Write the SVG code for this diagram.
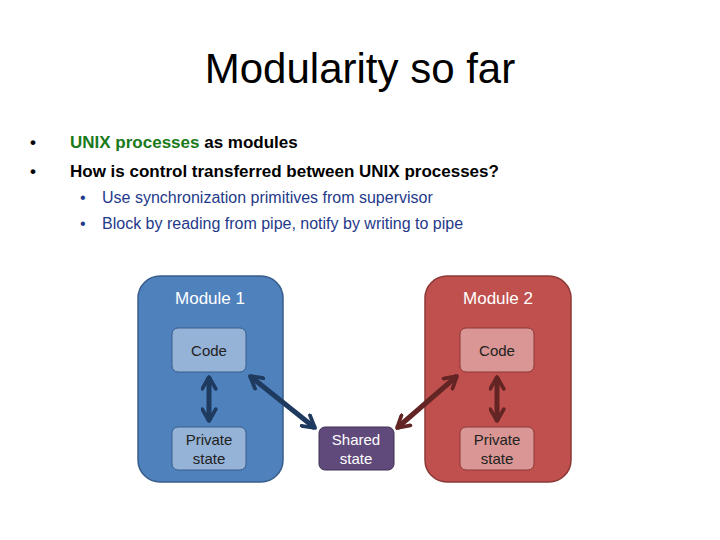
<svg xmlns="http://www.w3.org/2000/svg" width="720" height="540" viewBox="0 0 720 540">
<style>
text{font-family:"Liberation Sans",Arial,sans-serif}
.b{font-size:17px;font-weight:bold}
.s{font-size:16px;fill:#1f3a8a}
.m{font-size:17px;fill:#fff;text-anchor:middle}
.n{font-size:15px;fill:#222;text-anchor:middle}
.ns{font-size:15px;fill:#fff;text-anchor:middle}
</style>
<defs>
<marker id="ab" viewBox="0 0 10 10" refX="8" refY="5" markerWidth="3.4" markerHeight="3.4" orient="auto-start-reverse" markerUnits="strokeWidth"><polyline points="1,1 8,5 1,9" fill="none" stroke="#1f3a5f" stroke-width="2.2" stroke-linecap="round" stroke-linejoin="round"/></marker>
<marker id="ar" viewBox="0 0 10 10" refX="8" refY="5" markerWidth="3.4" markerHeight="3.4" orient="auto-start-reverse" markerUnits="strokeWidth"><polyline points="1,1 8,5 1,9" fill="none" stroke="#632523" stroke-width="2.2" stroke-linecap="round" stroke-linejoin="round"/></marker>
</defs>
<rect width="720" height="540" fill="#fff"/>
<text x="360" y="83" font-size="42" text-anchor="middle" fill="#000">Modularity so far</text>
<text x="30" y="148" class="b" fill="#000">•</text>
<text x="70" y="148" class="b"><tspan fill="#1a7a1a">UNIX processes</tspan><tspan fill="#000"> as modules</tspan></text>
<text x="30" y="177" class="b" fill="#000">•</text>
<text x="70" y="177" class="b" fill="#000">How is control transferred between UNIX processes?</text>
<text x="80" y="203" class="s">•</text>
<text x="102" y="203" class="s">Use synchronization primitives from supervisor</text>
<text x="80" y="229" class="s">•</text>
<text x="102" y="229" class="s">Block by reading from pipe, notify by writing to pipe</text>
<g id="module1">
<rect x="138" y="276" width="145" height="206" rx="22" fill="#4f81bd" stroke="#385d8a" stroke-width="1.5"/>
<text x="210" y="304" class="m">Module 1</text>
</g>
<g id="module2">
<rect x="425" y="276" width="146" height="206" rx="22" fill="#c0504d" stroke="#8c3836" stroke-width="1.5"/>
<text x="498" y="304" class="m">Module 2</text>
</g>
<g id="code1"><rect x="172" y="328" width="74" height="44" rx="6" fill="#95b3d7" stroke="#385d8a"/><text x="209" y="356" class="n">Code</text></g>
<g id="priv1"><rect x="172" y="427" width="74" height="43" rx="6" fill="#95b3d7" stroke="#385d8a"/><text x="209" y="445" class="n">Private</text><text x="209" y="464" class="n">state</text></g>
<g id="code2"><rect x="460" y="328" width="74" height="44" rx="6" fill="#d99694" stroke="#8c3836"/><text x="497" y="356" class="n">Code</text></g>
<g id="priv2"><rect x="460" y="427" width="74" height="43" rx="6" fill="#d99694" stroke="#8c3836"/><text x="497" y="445" class="n">Private</text><text x="497" y="464" class="n">state</text></g>
<g id="shared"><rect x="319" y="427" width="75" height="43" rx="6" fill="#604a7b" stroke="#3f3151"/><text x="356" y="445" class="ns">Shared</text><text x="356" y="464" class="ns">state</text></g>
<g id="connectors" stroke-width="5" fill="none">
<line x1="209" y1="377" x2="209" y2="421" stroke="#1f3a5f" marker-start="url(#ab)" marker-end="url(#ab)"/>
<line x1="250" y1="376" x2="315" y2="428" stroke="#1f3a5f" marker-start="url(#ab)" marker-end="url(#ab)"/>
<line x1="397" y1="428" x2="457" y2="376" stroke="#632523" marker-start="url(#ar)" marker-end="url(#ar)"/>
<line x1="497" y1="377" x2="497" y2="421" stroke="#632523" marker-start="url(#ar)" marker-end="url(#ar)"/>
</g>
</svg>
